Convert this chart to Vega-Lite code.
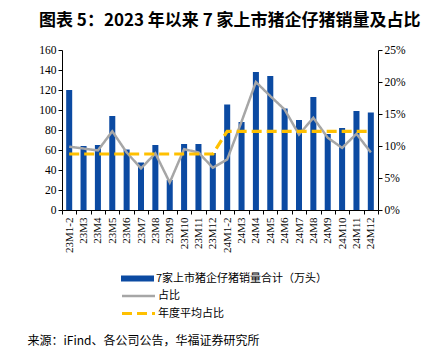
{
  "$schema": "https://vega.github.io/schema/vega-lite/v6.json",
  "width": 316,
  "height": 160,
  "autosize": {"type": "none"},
  "padding": {"left": 62, "top": 50, "right": 46, "bottom": 146},
  "background": "white",
  "title": {
    "text": "图表 5：2023 年以来 7 家上市猪企仔猪销量及占比",
    "font": "Noto Sans CJK SC",
    "fontSize": 17,
    "fontWeight": "bold",
    "color": "black",
    "anchor": "start",
    "align": "left",
    "frame": "group",
    "dx": -23,
    "offset": 14
  },
  "data": {
    "values": [
      {"月份": "23M1-2", "销量": 120, "占比": 0.099, "年度平均占比": 0.0875},
      {"月份": "23M3", "销量": 64, "占比": 0.096, "年度平均占比": 0.0875},
      {"月份": "23M4", "销量": 65, "占比": 0.093, "年度平均占比": 0.0875},
      {"月份": "23M5", "销量": 94, "占比": 0.123, "年度平均占比": 0.0875},
      {"月份": "23M6", "销量": 60.5, "占比": 0.09, "年度平均占比": 0.0875},
      {"月份": "23M7", "销量": 47.5, "占比": 0.065, "年度平均占比": 0.0875},
      {"月份": "23M8", "销量": 65, "占比": 0.0885, "年度平均占比": 0.0875},
      {"月份": "23M9", "销量": 30, "占比": 0.043, "年度平均占比": 0.0875},
      {"月份": "23M10", "销量": 66, "占比": 0.095, "年度平均占比": 0.0875},
      {"月份": "23M11", "销量": 66, "占比": 0.09, "年度平均占比": 0.0875},
      {"月份": "23M12", "销量": 57, "占比": 0.066, "年度平均占比": 0.0875},
      {"月份": "24M1-2", "销量": 105.5, "占比": 0.079, "年度平均占比": 0.123},
      {"月份": "24M3", "销量": 88, "占比": 0.138, "年度平均占比": 0.123},
      {"月份": "24M4", "销量": 138, "占比": 0.2, "年度平均占比": 0.123},
      {"月份": "24M5", "销量": 134, "占比": 0.178, "年度平均占比": 0.123},
      {"月份": "24M6", "销量": 101.5, "占比": 0.157, "年度平均占比": 0.123},
      {"月份": "24M7", "销量": 90, "占比": 0.118, "年度平均占比": 0.123},
      {"月份": "24M8", "销量": 113, "占比": 0.144, "年度平均占比": 0.123},
      {"月份": "24M9", "销量": 76, "占比": 0.113, "年度平均占比": 0.123},
      {"月份": "24M10", "销量": 82, "占比": 0.097, "年度平均占比": 0.123},
      {"月份": "24M11", "销量": 99, "占比": 0.119, "年度平均占比": 0.123},
      {"月份": "24M12", "销量": 97.5, "占比": 0.09, "年度平均占比": 0.123}
    ]
  },
  "encoding": {
    "x": {
      "field": "月份",
      "type": "nominal",
      "sort": null,
      "scale": {"paddingInner": 0, "paddingOuter": 0},
      "axis": {
        "title": "来源：iFind、各公司公告，华福证券研究所",
        "titleFont": "Noto Sans CJK SC",
        "titleFontSize": 12,
        "titleFontWeight": "normal",
        "titleColor": "black",
        "titleAnchor": "start",
        "titleAlign": "left",
        "titleBaseline": "middle",
        "titleX": -35,
        "titleY": 130,
        "labelAngle": -90,
        "labelFont": "Liberation Serif",
        "labelFontSize": 11,
        "labelColor": "black",
        "labelPadding": 3,
        "domainColor": "black",
        "tickColor": "black",
        "tickBand": "extent",
        "tickSize": 4,
        "grid": false
      }
    }
  },
  "layer": [
    {
      "mark": {"type": "bar", "width": {"band": 0.42}},
      "encoding": {
        "y": {
          "field": "销量",
          "type": "quantitative",
          "scale": {"domain": [0, 160], "nice": false},
          "axis": {
            "title": null,
            "values": [0, 20, 40, 60, 80, 100, 120, 140, 160],
            "grid": false,
            "domainColor": "black",
            "tickColor": "black",
            "tickSize": 4,
            "labelFont": "Liberation Serif",
            "labelFontSize": 11.5,
            "labelColor": "black",
            "labelPadding": 2
          }
        },
        "fill": {
          "datum": "7家上市猪企仔猪销量合计（万头）",
          "scale": {"range": ["#0B4AA2"]},
          "legend": {
            "title": null,
            "orient": "none",
            "legendX": 69,
            "legendY": 222,
            "symbolType": "M-3,-0.55H3V0.55H-3Z",
            "symbolSize": 121,
            "labelFont": "Noto Sans CJK SC",
            "labelFontSize": 11,
            "labelColor": "black",
            "labelOffset": 12,
            "labelLimit": 400
          }
        }
      }
    },
    {
      "transform": [{"fold": ["占比", "年度平均占比"], "as": ["系列", "值"]}],
      "mark": {"type": "line"},
      "encoding": {
        "y": {
          "field": "值",
          "type": "quantitative",
          "scale": {"domain": [0, 0.25], "nice": false},
          "axis": {
            "title": null,
            "orient": "right",
            "format": ".0%",
            "values": [0, 0.05, 0.1, 0.15, 0.2, 0.25],
            "grid": false,
            "domainColor": "black",
            "tickColor": "black",
            "tickSize": 4,
            "labelFont": "Liberation Serif",
            "labelFontSize": 11.5,
            "labelColor": "black",
            "labelPadding": 2
          }
        },
        "stroke": {
          "field": "系列",
          "type": "nominal",
          "scale": {"domain": ["占比", "年度平均占比"], "range": ["#A6A6A6", "#FFC000"]},
          "legend": {
            "title": null,
            "orient": "none",
            "legendX": 69,
            "legendY": 239,
            "symbolType": "M-3,0H3",
            "symbolSize": 121,
            "rowPadding": 5,
            "labelFont": "Noto Sans CJK SC",
            "labelFontSize": 11,
            "labelColor": "black",
            "labelOffset": 12,
            "labelLimit": 400
          }
        },
        "strokeDash": {
          "field": "系列",
          "type": "nominal",
          "scale": {"domain": ["占比", "年度平均占比"], "range": [[1, 0], [10, 5]]}
        },
        "strokeWidth": {
          "field": "系列",
          "type": "nominal",
          "scale": {"domain": ["占比", "年度平均占比"], "range": [2.5, 3.2]}
        }
      }
    }
  ],
  "resolve": {"scale": {"y": "independent"}},
  "config": {"view": {"stroke": null}}
}
